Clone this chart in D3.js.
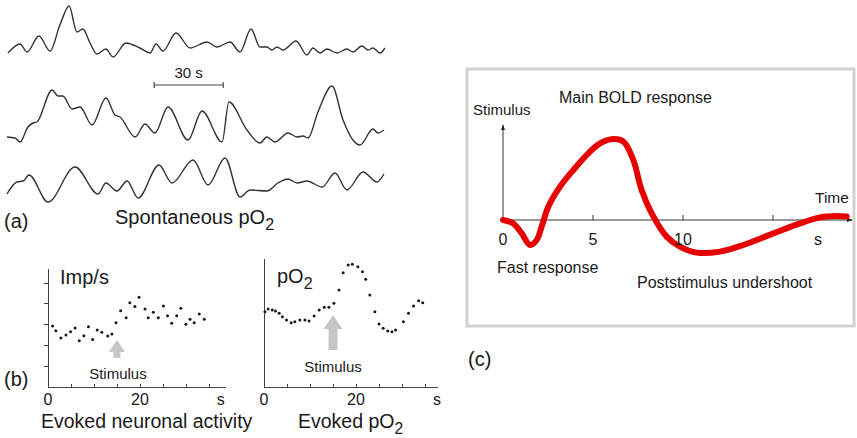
<!DOCTYPE html>
<html>
<head>
<meta charset="utf-8">
<title>Spontaneous and evoked pO2, BOLD response</title>
<style>
  body { margin: 0; background: #fff; }
  svg { display: block; font-family: "Liberation Sans", Arial, sans-serif; }
  .trace { fill: none; stroke: #333; stroke-width: 1.4px; }
  .lbl { fill: #1a1a1a; }
  .axis path, .axis line { stroke: #444; stroke-width: 1px; shape-rendering: crispEdges; }
  .dot { fill: #1a1a1a; }
  .stim { fill: #c6c6c6; }
  .bold { fill: none; stroke: #e60000; stroke-width: 6px; stroke-linecap: round; stroke-linejoin: round; }
</style>
</head>
<body>
<div id="chart"></div>
<script src="https://cdn.jsdelivr.net/npm/d3@7"></script>
<script>
// (a) spontaneous pO2 traces: [time s, amplitude]
var spontTrace1 = [[0.4,5],[5.7,14],[8.7,6],[13.9,22],[18.7,7],[23,33],[27,52],[30.4,26],[33,29],[36.1,15],[39.1,4],[43,9],[46.1,1],[51.7,15],[57.8,10],[62.2,5],[64.8,14],[67.8,7],[73.5,25],[79.6,10],[87,16],[91.3,11],[97,16],[101.3,6],[106.1,29],[110,11],[113,11],[115.2,8],[117.4,11],[120,8],[125.7,17],[130.4,3],[133,10],[136.1,5],[139.1,9],[143.5,5],[147.8,9],[150.4,6],[154.3,12],[157,8],[159.1,10],[162.2,5],[164.3,10]];
var spontTrace2 = [[0,9],[3.5,8],[5.7,4],[9.1,19],[11.3,23],[13,24],[19.6,56],[22.2,50],[24.3,50],[28.3,37],[31.7,39],[37,21],[43,48],[47,31],[49.1,29],[55.7,9],[60,22],[64.3,13],[70,39],[78.7,6],[84.8,35],[93.5,4],[96.5,44],[104.3,16],[110,3],[113,9],[116.5,4],[122.2,13],[126.1,9],[128.7,10],[130.9,8],[135.2,34],[141.3,60],[146.1,26],[150.4,6],[153.5,1],[159.1,17],[161.3,13],[163.9,16]];
var spontTrace3 = [[0,9],[4.3,21],[7,22],[9.6,28],[17.8,1],[29.6,36],[39.6,9],[43,20],[47.8,12],[52.2,22],[57,5],[66.1,38],[71.7,20],[80.9,43],[87.4,18],[94.8,45],[101.3,6],[105.7,13],[113,12],[117.8,20],[122.2,24],[126.1,20],[130.4,22],[137,16],[142.6,30],[147.8,13],[154.8,31],[160.9,21],[163.9,29]];
var scaleBar = [64, 94];   // 30 s

// (b) evoked neuronal activity and evoked pO2
var neuronTime = [1.0,1.7,2.8,3.9,4.9,5.9,6.8,7.8,8.8,9.7,10.7,11.7,13.0,13.9,14.8,15.8,17.0,17.8,18.9,19.8,21.1,21.8,22.9,24.0,25.1,26.0,26.9,28.0,28.9,30.0,30.9,31.8,32.9,34.0];
var neuronRate = [29.2,27.0,23.5,24.9,26.5,28.3,22.2,24.6,28.9,22.8,27.3,26.2,24.4,25.4,30.8,36.5,33.2,40.4,38.5,43.0,37.4,33.2,35.8,33.2,38.8,34.1,30.5,34.1,37.7,30.0,32.4,30.8,35.0,32.4];
var po2Time = [0.2,0.9,1.8,2.5,3.3,4.0,4.9,5.9,6.7,7.8,8.9,9.8,10.9,12.0,13.1,14.1,15.2,16.3,17.2,18.3,19.2,20.4,21.4,22.1,23.0,24.1,25.0,25.9,26.9,27.8,28.6,30.3,31.4,32.5,33.6,34.5];
var po2Value = [58.4,60.5,59.7,58.9,57.1,54.5,51.9,49.8,50.6,51.9,51.9,51.2,55,59.7,61.8,61.8,64.9,75.2,88.6,94.6,95.1,93.3,89.4,83.5,71.3,58.4,48.8,45.5,43.4,42.9,44.2,50.6,57.1,62.8,66.9,65.3];
var evokedTicks = [5, 10, 15, 20, 25, 30, 35];
var evokedLabels = [0, 20];
var rateTicks = [10, 20, 30, 40, 50];
var stimulusTime = 15;

// (c) BOLD response
var boldTime = [0,0.57,1.04,1.5,1.87,2.15,2.52,3.17,3.91,4.74,5.39,6.13,6.69,7.24,7.7,8.26,9.09,9.83,10.76,12.06,13.35,15.02,16.5,17.61,18.54,19.09];
var boldSignal = [0,-0.17,-0.67,-1.25,-1.0,-0.33,0.67,1.67,2.5,3.33,3.83,4.05,3.92,3.0,1.5,0.33,-0.83,-1.33,-1.63,-1.58,-1.25,-0.67,-0.17,0.13,0.2,0.17];
var boldTicks = [5, 10, 15];
var boldLabels = [0, 5, 10];

var W = 857, H = 438;
var svg = d3.select('#chart').append('svg').attr('width', W).attr('height', H);

function label(x, y, size, txt, anchor, sub) {
	var t = svg.append('text').attr('class', 'lbl').attr('x', x).attr('y', y)
		.attr('font-size', size).attr('text-anchor', anchor || 'start').text(txt);
	if (sub) t.append('tspan').attr('dy', size * 0.3).attr('font-size', size * 0.8).text(sub);
	return t;
}

/* ---------- (a) ---------- */
var xA = d3.scaleLinear().domain([0, 165]).range([7, 7 + 2.3 * 165]);
function drawTrace(data, bottom) {
	var y = d3.scaleLinear().domain([0, 60]).range([bottom, bottom - 60]);
	var line = d3.line().x(function(d) { return xA(d[0]); }).y(function(d) { return y(d[1]); })
		.curve(d3.curveMonotoneX);
	svg.append('path').datum(data).attr('class', 'trace').attr('d', line);
}
drawTrace(spontTrace1, 58);
drawTrace(spontTrace2, 146);
drawTrace(spontTrace3, 203);

var sb = svg.append('g').attr('stroke', '#444').attr('stroke-width', 1.2);
sb.append('line').attr('x1', xA(scaleBar[0])).attr('x2', xA(scaleBar[1])).attr('y1', 85).attr('y2', 85);
scaleBar.forEach(function(t) {
	sb.append('line').attr('x1', xA(t)).attr('x2', xA(t)).attr('y1', 82).attr('y2', 88);
});
label((xA(scaleBar[0]) + xA(scaleBar[1])) / 2, 78, 15, '30 s', 'middle');
label(4, 228, 20, '(a)');
label(115, 224, 20, 'Spontaneous pO', 'start', '2');

/* ---------- (b) left: neuronal activity ---------- */
var xL = d3.scaleLinear().domain([0, 38.5]).range([48, 225]);
var yL = d3.scaleLinear().domain([0, 57]).range([387, 268]);
svg.append('g').attr('class', 'axis').attr('transform', 'translate(0,387)')
	.call(d3.axisBottom(xL).tickValues(evokedTicks).tickSize(-3).tickSizeOuter(0).tickFormat(''));
svg.append('g').attr('class', 'axis').attr('transform', 'translate(48,0)')
	.call(d3.axisLeft(yL).tickValues(rateTicks).tickSize(4).tickSizeOuter(0).tickFormat(''));
svg.selectAll('.axis text').remove();

svg.append('g').selectAll('circle').data(neuronTime).enter().append('circle')
	.attr('class', 'dot').attr('r', 1.5)
	.attr('cx', function(d) { return xL(d); })
	.attr('cy', function(d, i) { return yL(neuronRate[i]); });

function stimArrow(x, tipY, baseY, headW, headH, shaftW) {
	var p = d3.path();
	p.moveTo(x, tipY);
	p.lineTo(x + headW / 2, tipY + headH);
	p.lineTo(x + shaftW / 2, tipY + headH);
	p.lineTo(x + shaftW / 2, baseY);
	p.lineTo(x - shaftW / 2, baseY);
	p.lineTo(x - shaftW / 2, tipY + headH);
	p.lineTo(x - headW / 2, tipY + headH);
	p.closePath();
	svg.append('path').attr('class', 'stim').attr('d', p.toString());
}
stimArrow(xL(stimulusTime), yL(22.5), 358, 16, 12, 7);
label(xL(stimulusTime) + 1, 379, 15, 'Stimulus', 'middle');

evokedLabels.forEach(function(v) { label(xL(v), 405, 16, v, 'middle'); });
label(xL(37.6), 405, 16, 's', 'middle');
label(60, 284, 20, 'Imp/s');
label(4, 386, 20, '(b)');
label(41, 428, 19.5, 'Evoked neuronal activity');

/* ---------- (b) right: evoked pO2 ---------- */
var xR = d3.scaleLinear().domain([0, 37.6]).range([264, 437]);
var yR = d3.scaleLinear().domain([0, 100]).range([387, 258]);
svg.append('g').attr('class', 'axis').attr('transform', 'translate(0,387)')
	.call(d3.axisBottom(xR).tickValues(evokedTicks).tickSize(-3).tickSizeOuter(0).tickFormat(''));
svg.append('g').attr('class', 'axis').attr('transform', 'translate(264,0)')
	.call(d3.axisLeft(yR).tickValues([]).tickSizeOuter(0));

svg.append('g').selectAll('circle').data(po2Time).enter().append('circle')
	.attr('class', 'dot').attr('r', 1.5)
	.attr('cx', function(d) { return xR(d); })
	.attr('cy', function(d, i) { return yR(po2Value[i]); });

stimArrow(xR(stimulusTime), yR(55.8), 350, 19, 14, 9);
label(xR(stimulusTime), 372, 15, 'Stimulus', 'middle');
evokedLabels.forEach(function(v) { label(xR(v), 405, 16, v, 'middle'); });
label(xR(37.6), 405, 16, 's', 'middle');
label(277, 283, 20, 'pO', 'start', '2');
label(298, 428, 19.5, 'Evoked pO', 'start', '2');

/* ---------- (c) BOLD ---------- */
svg.append('rect').attr('x', 467).attr('y', 69).attr('width', 387).attr('height', 257)
	.attr('fill', 'none').attr('stroke', '#d2d2d2').attr('stroke-width', 3);

var xC = d3.scaleLinear().domain([0, 19.2]).range([503, 503 + 18 * 19.2]);
var yC = d3.scaleLinear().domain([-2, 4.75]).range([260, 125]);

var defs = svg.append('defs');
defs.append('marker').attr('id', 'arrow').attr('viewBox', '0 0 10 10').attr('refX', 9).attr('refY', 5)
	.attr('markerWidth', 6).attr('markerHeight', 6).attr('orient', 'auto')
	.append('path').attr('d', 'M0,1.5L10,5L0,8.5Z').attr('fill', '#222');

svg.append('line').attr('x1', xC(0)).attr('x2', xC(0)).attr('y1', yC(0)).attr('y2', yC(4.75))
	.attr('stroke', '#333').attr('stroke-width', 1).attr('marker-end', 'url(#arrow)');
svg.append('line').attr('x1', xC(0)).attr('x2', xC(19.4)).attr('y1', yC(0)).attr('y2', yC(0))
	.attr('stroke', '#333').attr('stroke-width', 1).attr('marker-end', 'url(#arrow)');
boldTicks.forEach(function(t) {
	svg.append('line').attr('x1', xC(t)).attr('x2', xC(t)).attr('y1', yC(0)).attr('y2', yC(0) - 5)
		.attr('stroke', '#333').attr('stroke-width', 1);
});

var boldLine = d3.line()
	.x(function(d) { return xC(d); })
	.y(function(d, i) { return yC(boldSignal[i]); })
	.curve(d3.curveCatmullRom.alpha(0.5));
svg.append('path').datum(boldTime).attr('class', 'bold').attr('d', boldLine);

boldLabels.forEach(function(v) { label(xC(v), 245, 16, v, 'middle'); });
label(xC(17.5), 245, 16, 's', 'middle');
label(473, 115, 15, 'Stimulus');
label(559, 103, 16, 'Main BOLD response');
label(815, 203, 15.5, 'Time');
label(497, 273, 16, 'Fast response');
label(637, 288, 16, 'Poststimulus undershoot');
label(468, 366, 20, '(c)');
</script>
</body>
</html>
